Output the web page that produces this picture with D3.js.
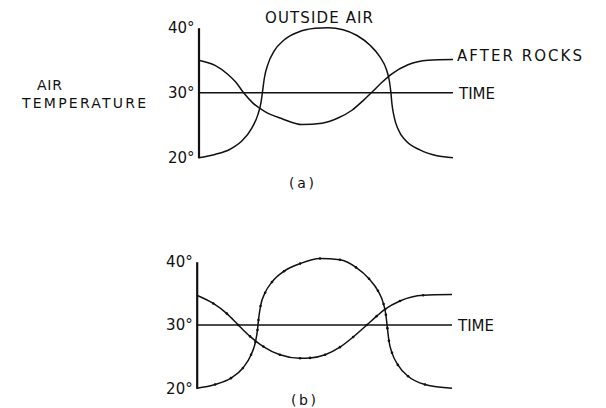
<!DOCTYPE html>
<html>
<head>
<meta charset="utf-8">
<script src="https://cdn.jsdelivr.net/npm/d3@7"></script>
<style>
  body { margin: 0; background: #fff; }
  svg { display: block; }
  text { font-family: "DejaVu Sans", sans-serif; fill: #111; }
</style>
</head>
<body>
<svg width="606" height="408"></svg>
<script>
// temperature ticks
const tempTicks = [20, 30, 40];

// panel (a): outside air and air after the rocks, time as % of cycle
const outsideTimeA = [0, 6.5, 12.4, 17.1, 21.0, 23.4, 24.6, 25.1, 25.9, 27.3, 29.7, 33.6, 39.1, 45.8, 50.9, 56.8, 62.3, 67.4, 71.3, 73.9, 75.0, 75.6, 76.0, 76.8, 78.4, 81.5, 87.0, 93.7, 100];
const outsideTempA = [20, 20.5, 21.3, 22.6, 24.6, 26.7, 28.6, 30.0, 32.3, 34.4, 36.4, 38.1, 39.3, 39.9, 40.0, 39.7, 38.8, 37.3, 35.5, 33.5, 31.8, 30.0, 28.3, 26.4, 24.4, 22.6, 21.2, 20.3, 20];
const rocksTimeA = [0, 6.5, 11.6, 14.7, 17.5, 21.4, 26.1, 32.8, 40.7, 48.5, 54.8, 60.3, 65.0, 68.2, 72.1, 76.0, 82.3, 90.2, 100];
const rocksTempA = [35.0, 34.2, 32.8, 31.6, 30.1, 28.4, 27.1, 26.0, 25.1, 25.3, 26.1, 27.3, 28.9, 30.1, 31.6, 32.9, 34.3, 35.0, 35.1];

// panel (b)
const outsideTimeB = [0, 7.2, 13.4, 18.1, 21.3, 23.0, 23.8, 24.2, 25.0, 26.8, 29.5, 34.2, 40.5, 48.3, 56.1, 62.4, 67.5, 71.0, 73.2, 74.1, 74.7, 75.3, 76.5, 78.8, 82.8, 89.4, 100];
const outsideTempB = [20, 20.6, 21.6, 23.2, 25.3, 27.3, 29.2, 30.8, 33.0, 35.1, 36.8, 38.5, 39.7, 40.5, 40.3, 39.1, 37.3, 35.4, 33.3, 31.6, 29.5, 27.5, 25.6, 23.7, 21.9, 20.6, 20];
const rocksTimeB = [0, 6.5, 11.8, 16.3, 20.9, 26.1, 32.6, 40.5, 44.4, 50.3, 56.1, 61.3, 66.6, 70.5, 73.8, 79.6, 88.7, 100];
const rocksTempB = [34.7, 33.4, 31.8, 30.0, 28.2, 26.6, 25.3, 24.75, 24.8, 25.3, 26.5, 28.1, 30.0, 31.4, 32.5, 33.8, 34.7, 34.8];

const svg = d3.select("svg");

const zip = (ts, vs) => ts.map((t, i) => ({ t: t, v: vs[i] }));

const drawPanel = (opts) => {
  const x = d3.scaleLinear().domain([0, 100]).range(opts.xRange);
  const y = d3.scaleLinear().domain([20, 40]).range(opts.yRange);
  const g = svg.append("g");

  const axis = d3.axisLeft(y)
    .tickValues(tempTicks)
    .tickSize(0)
    .tickPadding(4)
    .tickFormat((d) => d + "°");
  const ax = g.append("g")
    .attr("transform", `translate(${opts.xRange[0]},0)`)
    .call(axis);
  ax.select(".domain").attr("stroke", "#111").attr("stroke-width", 2.2);
  ax.selectAll("text")
    .attr("font-size", 15)
    .attr("fill", "#111")
    .style("font-family", "DejaVu Sans, sans-serif");

  // time line at 30 degrees
  g.append("line")
    .attr("x1", x(0))
    .attr("x2", x(100))
    .attr("y1", y(30))
    .attr("y2", y(30))
    .attr("stroke", "#111")
    .attr("stroke-width", 1.6);

  const line = d3.line()
    .x((d) => x(d.t))
    .y((d) => y(d.v))
    .curve(d3.curveMonotoneX);

  opts.series.forEach((s) => {
    g.append("path")
      .datum(s)
      .attr("d", line)
      .attr("fill", "none")
      .attr("stroke", "#111")
      .attr("stroke-width", 1.5);
    if (opts.dots) {
      g.selectAll(null)
        .data(s.slice(1, -1))
        .enter()
        .append("circle")
        .attr("cx", (d) => x(d.t))
        .attr("cy", (d) => y(d.v))
        .attr("r", 1.3)
        .attr("fill", "#111");
    }
  });

  g.append("text")
    .attr("x", x(100) + 6)
    .attr("y", y(30) + 6)
    .attr("font-size", 15)
    .text("TIME");

  g.append("text")
    .attr("x", opts.capX)
    .attr("y", opts.capY)
    .attr("font-size", 14)
    .attr("textLength", 25)
    .attr("lengthAdjust", "spacing")
    .text(opts.caption);

  return { x, y };
};

const a = drawPanel({
  xRange: [198.5, 453],
  yRange: [157.7, 27.7],
  series: [zip(outsideTimeA, outsideTempA), zip(rocksTimeA, rocksTempA)],
  dots: false,
  caption: "(a)",
  capX: 289,
  capY: 188
});

drawPanel({
  xRange: [196.7, 452],
  yRange: [388.3, 261.7],
  series: [zip(outsideTimeB, outsideTempB), zip(rocksTimeB, rocksTempB)],
  dots: true,
  caption: "(b)",
  capX: 291,
  capY: 405
});

// labels for panel (a)
svg.append("text")
  .attr("x", 265)
  .attr("y", 23)
  .attr("font-size", 15)
  .attr("textLength", 108)
  .attr("lengthAdjust", "spacing")
  .text("OUTSIDE AIR");

svg.append("text")
  .attr("x", 457)
  .attr("y", a.y(35) + 1)
  .attr("font-size", 15)
  .attr("textLength", 125)
  .attr("lengthAdjust", "spacing")
  .text("AFTER ROCKS");

svg.append("text")
  .attr("x", 37)
  .attr("y", 90)
  .attr("font-size", 14)
  .attr("textLength", 25)
  .attr("lengthAdjust", "spacing")
  .text("AIR");

svg.append("text")
  .attr("x", 22)
  .attr("y", 108)
  .attr("font-size", 14)
  .attr("textLength", 124)
  .attr("lengthAdjust", "spacing")
  .text("TEMPERATURE");
</script>
</body>
</html>
